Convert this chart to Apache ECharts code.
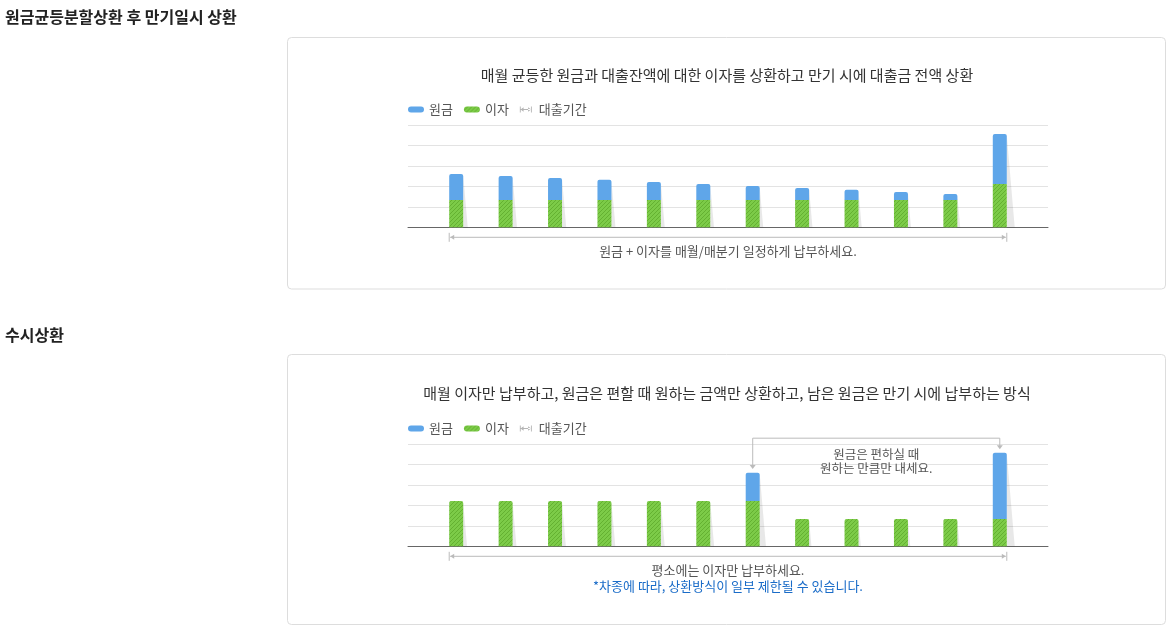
<!DOCTYPE html>
<html>
<head>
<meta charset="utf-8">
<script src="https://cdn.jsdelivr.net/npm/echarts@6/dist/echarts.min.js"></script>
<style>
html,body{margin:0;padding:0;background:#fff;}
#c{width:1169px;height:631px;}
</style>
</head>
<body>
<div id="c"></div>
<script>
// ---- data ----
const categories = ['1','2','3','4','5','6','7','8','9','10','11','12'];
const legendNames = ['원금', '이자', '대출기간'];
// panel 1: 원금균등분할상환 후 만기일시 상환
const p1Principal = [1.27, 1.17, 1.07, 0.98, 0.88, 0.78, 0.68, 0.58, 0.49, 0.39, 0.29, 2.44];
const p1Interest  = [1.34, 1.34, 1.34, 1.34, 1.34, 1.34, 1.34, 1.34, 1.34, 1.34, 1.34, 2.12];
// panel 2: 수시상환
const p2Principal = [0, 0, 0, 0, 0, 0, 1.39, 0, 0, 0, 0, 3.24];
const p2Interest  = [2.22, 2.22, 2.22, 2.22, 2.22, 2.22, 2.22, 1.34, 1.34, 1.34, 1.34, 1.34];
const yTicks = [0, 1, 2, 3, 4, 5];
const bracketFrom = 6, bracketTo = 11, bracketLevel = 5.3;

const FONT = '"Noto Sans CJK KR", "Noto Sans", sans-serif';
const BLUE = '#5fa6e9';
const GRAY = '#bbbbbb';

// hatch pattern for 이자
const cv = document.createElement('canvas');
cv.width = 4; cv.height = 4;
const cx = cv.getContext('2d');
cx.fillStyle = '#7ccb48'; cx.fillRect(0, 0, 4, 4);
cx.fillStyle = '#64b131';
for (let i = 0; i < 4; i++) cx.fillRect(3 - i, i, 1, 1);
const GREEN = { image: cv, repeat: 'repeat' };

const pill = 'path://M3,0h10a3,3 0 0 1 0,6h-10a3,3 0 0 1 0,-6z';
const periodIcon = 'path://M0,0h1.2v8h-1.2z M14.8,0h1.2v8h-1.2z M1,3.4h14v1.2h-14z M1,4l4,-3v6z M15,4l-4,-3v6z';

const chart = echarts.init(document.getElementById('c'), null, { renderer: 'canvas' });

const BAR_W = 14;
const panels = [
  { top: 125, height: 102.3, principal: p1Principal, interest: p1Interest, stack: 'p1' },
  { top: 444.3, height: 102, principal: p2Principal, interest: p2Interest, stack: 'p2' }
];

const grids = [], xAxes = [], yAxes = [], series = [], legends = [];
panels.forEach((p, k) => {
  const bgIdx = grids.length;
  grids.push({ left: 408, top: p.top, width: 640, height: p.height });
  grids.push({ left: 431.5, top: p.top, width: 593, height: p.height });
  xAxes.push({ type: 'value', gridIndex: bgIdx, min: 0, max: 1, axisLine: { show: true, lineStyle: { color: '#666', width: 1 } }, axisTick: { show: false }, axisLabel: { show: false }, splitLine: { show: false } });
  xAxes.push({ type: 'category', gridIndex: bgIdx + 1, data: categories, show: false, boundaryGap: true });
  yAxes.push({ type: 'value', gridIndex: bgIdx, min: yTicks[0], max: yTicks[yTicks.length - 1], interval: 1, axisLine: { show: false }, axisTick: { show: false }, axisLabel: { show: false }, splitLine: { show: true, lineStyle: { color: '#e3e3e3', width: 1 } } });
  yAxes.push({ type: 'value', gridIndex: bgIdx + 1, min: yTicks[0], max: yTicks[yTicks.length - 1], interval: 1, show: false, splitLine: { show: false } });
  const xi = bgIdx + 1, yi = bgIdx + 1;
  const totals = p.principal.map((v, i) => v + p.interest[i]);

  // shadows
  series.push({
    type: 'custom', xAxisIndex: xi, yAxisIndex: yi, z: 1, silent: true,
    data: totals.map((t, i) => [i, t]),
    renderItem: (params, api) => {
      const top = api.coord([api.value(0), api.value(1)]);
      const base = api.coord([api.value(0), 0]);
      const xr = top[0] + BAR_W / 2;
      const h = base[1] - top[1];
      return { type: 'polygon', shape: { points: [[xr, top[1] + 1], [xr + h * 0.085, base[1]], [xr, base[1]]] }, style: { fill: 'rgba(0,0,0,0.09)' } };
    }
  });
  series.push({
    name: '이자', type: 'bar', stack: p.stack, xAxisIndex: xi, yAxisIndex: yi, barWidth: BAR_W, z: 3,
    itemStyle: { color: GREEN },
    data: p.interest.map((v, i) => ({ value: v, itemStyle: { borderRadius: p.principal[i] > 0 ? 0 : [2, 2, 0, 0] } }))
  });
  series.push({
    name: '원금', type: 'bar', stack: p.stack, xAxisIndex: xi, yAxisIndex: yi, barWidth: BAR_W, z: 3,
    itemStyle: { color: BLUE, borderRadius: [2, 2, 0, 0] },
    data: p.principal
  });
  // loan period arrow
  series.push({
    name: '대출기간', type: 'custom', xAxisIndex: xi, yAxisIndex: yi, z: 2, silent: true,
    itemStyle: { color: '#b5b5b5' },
    data: [[0, categories.length - 1]],
    renderItem: (params, api) => {
      const a = api.coord([api.value(0), 0]);
      const b = api.coord([api.value(1), 0]);
      const x0 = a[0] - BAR_W / 2, x1 = b[0] + BAR_W / 2, y = a[1] + 10;
      const st = { stroke: GRAY, lineWidth: 1, fill: null };
      return { type: 'group', children: [
        { type: 'line', shape: { x1: x0 + 1, y1: y, x2: x1 - 1, y2: y }, style: st },
        { type: 'line', shape: { x1: x0, y1: y - 4.5, x2: x0, y2: y + 4.5 }, style: st },
        { type: 'line', shape: { x1: x1, y1: y - 4.5, x2: x1, y2: y + 4.5 }, style: st },
        { type: 'polygon', shape: { points: [[x0 + 1, y], [x0 + 5, y - 2.5], [x0 + 5, y + 2.5]] }, style: { fill: GRAY } },
        { type: 'polygon', shape: { points: [[x1 - 1, y], [x1 - 5, y - 2.5], [x1 - 5, y + 2.5]] }, style: { fill: GRAY } }
      ] };
    }
  });
  if (k === 1) {
    series.push({
      type: 'custom', xAxisIndex: xi, yAxisIndex: yi, z: 2, silent: true,
      data: [[bracketFrom, bracketTo]],
      renderItem: (params, api) => {
        const i0 = api.value(0), i1 = api.value(1);
        const a = api.coord([i0, totals[i0]]);
        const b = api.coord([i1, totals[i1]]);
        const yl = api.coord([i0, bracketLevel])[1];
        const st = { stroke: GRAY, lineWidth: 1, fill: null };
        const arrow = (x, tip) => ({ type: 'polygon', shape: { points: [[x, tip], [x - 3, tip - 4], [x + 3, tip - 4]] }, style: { fill: GRAY } });
        const ta = a[1] - 3.7, tb = b[1] - 3.7;
        const mx = (a[0] + b[0]) / 2;
        return { type: 'group', children: [
          { type: 'polyline', shape: { points: [[a[0], ta - 3], [a[0], yl], [b[0], yl], [b[0], tb - 3]] }, style: st },
          arrow(a[0], ta), arrow(b[0], tb),
          { type: 'text', style: { text: '원금은 편하실 때', x: mx, y: yl + 16, align: 'center', verticalAlign: 'middle', fill: '#555', font: '12.5px ' + FONT } },
          { type: 'text', style: { text: '원하는 만큼만 내세요.', x: mx, y: yl + 30, align: 'center', verticalAlign: 'middle', fill: '#555', font: '12.5px ' + FONT } }
        ] };
      }
    });
  }
  legends.push({
    left: 408, top: k === 0 ? 103 : 422, padding: 0, itemWidth: 16, itemHeight: 6, itemGap: 11,
    selectedMode: false,
    textStyle: { color: '#555', fontSize: 13, fontFamily: FONT },
    data: [
      { name: legendNames[0], icon: pill },
      { name: legendNames[1], icon: pill },
      { name: legendNames[2], icon: periodIcon }
    ]
  });
});

const txt = (text, x, y, opt) => Object.assign({
  type: 'text', x: x, y: y,
  style: Object.assign({ text: text, fill: '#555', font: '13px ' + FONT, textAlign: 'center', textVerticalAlign: 'middle' }, opt || {})
});

chart.setOption({
  backgroundColor: '#fff',
  animation: false,
  grid: grids, xAxis: xAxes, yAxis: yAxes, series: series, legend: legends,
  graphic: [
    { type: 'rect', shape: { x: 287.5, y: 37.5, width: 878, height: 251.5, r: 4 }, style: { fill: '#fff', stroke: '#dddddd', lineWidth: 1 }, z: -10 },
    { type: 'rect', shape: { x: 287.5, y: 354.5, width: 878, height: 270, r: 4 }, style: { fill: '#fff', stroke: '#dddddd', lineWidth: 1 }, z: -10 },
    txt('원금균등분할상환 후 만기일시 상환', 5, 17, { textAlign: 'left', fill: '#222', font: 'bold 16px ' + FONT }),
    txt('수시상환', 5, 335, { textAlign: 'left', fill: '#222', font: 'bold 16px ' + FONT }),
    txt('매월 균등한 원금과 대출잔액에 대한 이자를 상환하고 만기 시에 대출금 전액 상환', 727, 75, { fill: '#333', font: '15px ' + FONT }),
    txt('매월 이자만 납부하고, 원금은 편할 때 원하는 금액만 상환하고, 남은 원금은 만기 시에 납부하는 방식', 727, 393, { fill: '#333', font: '15px ' + FONT }),
    txt('원금 + 이자를 매월/매분기 일정하게 납부하세요.', 728, 251),
    txt('평소에는 이자만 납부하세요.', 728, 570),
    txt('*차종에 따라, 상환방식이 일부 제한될 수 있습니다.', 728, 586, { fill: '#1a6cc8' })
  ]
});
</script>
</body>
</html>
